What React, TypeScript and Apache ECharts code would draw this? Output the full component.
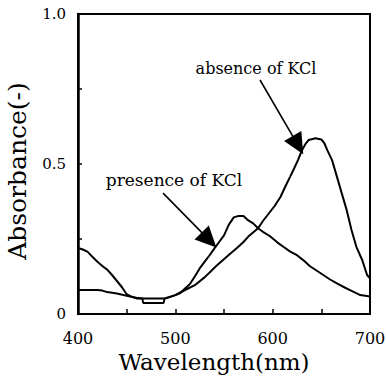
import React, { useEffect, useRef } from "react";
import * as echarts from "echarts";

const presenceWavelength = [400, 405, 410, 415, 420, 425, 430, 435, 440, 445, 450, 455, 460, 465, 470, 480, 490, 495, 500, 505, 510, 515, 520, 525, 530, 535, 540, 545, 550, 555, 560, 565, 570, 575, 580, 585, 590, 597, 605, 611, 618, 625, 632, 638, 645, 652, 659, 666, 673, 680, 690, 700];
const presenceAbs = [0.22, 0.215, 0.207, 0.19, 0.174, 0.16, 0.148, 0.13, 0.11, 0.09, 0.066, 0.057, 0.052, 0.052, 0.052, 0.052, 0.052, 0.057, 0.063, 0.07, 0.085, 0.1, 0.125, 0.152, 0.174, 0.195, 0.218, 0.24, 0.262, 0.298, 0.322, 0.327, 0.327, 0.312, 0.302, 0.286, 0.274, 0.26, 0.238, 0.224, 0.208, 0.196, 0.178, 0.16, 0.145, 0.13, 0.115, 0.102, 0.09, 0.079, 0.063, 0.058];

const absenceWavelength = [400, 410, 420, 425, 430, 440, 450, 460, 466, 467, 488, 489, 500, 510, 520, 530, 536, 542, 549, 556, 563, 570, 575, 585, 590, 596, 602, 608, 613, 618, 622, 626, 630, 634, 637, 644, 650, 653, 656, 661, 666, 671, 676, 681, 686, 692, 697, 700];
const absenceAbs = [0.08, 0.08, 0.08, 0.078, 0.073, 0.068, 0.061, 0.054, 0.052, 0.037, 0.037, 0.052, 0.063, 0.08, 0.096, 0.122, 0.141, 0.16, 0.18, 0.2, 0.219, 0.24, 0.258, 0.286, 0.31, 0.335, 0.36, 0.39, 0.425, 0.458, 0.485, 0.513, 0.545, 0.568, 0.58, 0.586, 0.582, 0.57, 0.547, 0.513, 0.458, 0.402, 0.347, 0.28, 0.224, 0.18, 0.13, 0.119];

const xTickLabels = [400, 500, 600, 700];
const yTickLabels = ["0", "0.5", "1.0"];

// arrow annotations in data coordinates: [start, end]
const absenceArrow = [[587, 0.78], [626, 0.563]];
const presenceArrow = [[487.4, 0.403], [534.6, 0.247]];

const FONT = "DejaVu Serif";

export default function App() {
  const ref = useRef<HTMLDivElement>(null);
  useEffect(() => {
    if (!ref.current) return;
    const chart = echarts.init(ref.current, null, { renderer: "svg" });
    const arrowLine = (pts: number[][]) => ({
      silent: true,
      symbol: ["none", "triangle"],
      symbolSize: [20, 21],
      label: { show: false },
      lineStyle: { color: "#000", width: 1.6, type: "solid" },
      itemStyle: { color: "#000" },
      data: [[{ coord: pts[0] }, { coord: pts[1] }]],
    });
    chart.setOption({
      animation: false,
      textStyle: { fontFamily: FONT, color: "#000" },
      grid: {
        left: 78,
        right: 16,
        top: 14,
        bottom: 62,
        containLabel: false,
        outerBoundsMode: "none",
        show: true,
        borderColor: "#000",
        borderWidth: 2,
      },
      xAxis: {
        type: "value",
        min: 400,
        max: 700,
        interval: 50,
        name: "Wavelength(nm)",
        nameLocation: "middle",
        nameGap: 35,
        nameTextStyle: { fontFamily: FONT, fontSize: 23, color: "#000", padding: [0, 20, 0, 0] },
        axisLine: { lineStyle: { color: "#000", width: 2 } },
        axisTick: { inside: true, length: 5, lineStyle: { color: "#000", width: 1.5 } },
        axisLabel: {
          margin: 16,
          fontFamily: FONT,
          fontSize: 16,
          color: "#000",
          formatter: (v: number) => (xTickLabels.includes(v) ? String(v) : ""),
        },
        splitLine: { show: false },
      },
      yAxis: {
        type: "value",
        min: 0,
        max: 1,
        interval: 0.25,
        name: "Absorbance(-)",
        nameLocation: "middle",
        nameGap: 48,
        nameRotate: 90,
        nameTextStyle: { fontFamily: FONT, fontSize: 25, color: "#000", padding: [0, 14, 0, 0] },
        axisLine: { show: true, lineStyle: { color: "#000", width: 2.5 } },
        axisTick: { inside: true, length: 4, lineStyle: { color: "#000", width: 1.5 } },
        axisLabel: {
          margin: 12,
          fontFamily: FONT,
          fontSize: 15,
          color: "#000",
          formatter: (v: number) => {
            const s = v === 0 ? "0" : v.toFixed(1);
            return yTickLabels.includes(s) ? s : "";
          },
        },
        splitLine: { show: false },
      },
      graphic: [
        {
          type: "text",
          x: 256,
          y: 68,
          style: {
            text: "absence of KCl",
            fontFamily: FONT,
            fontSize: 16,
            fill: "#000",
            align: "center",
            verticalAlign: "middle",
          },
        },
        {
          type: "text",
          x: 174,
          y: 180,
          style: {
            text: "presence of KCl",
            fontFamily: FONT,
            fontSize: 17,
            fill: "#000",
            align: "center",
            verticalAlign: "middle",
          },
        },
      ],
      series: [
        {
          name: "presence of KCl",
          type: "line",
          data: presenceWavelength.map((w, i) => [w, presenceAbs[i]]),
          showSymbol: false,
          lineStyle: { color: "#000", width: 2 },
          markLine: arrowLine(presenceArrow),
        },
        {
          name: "absence of KCl",
          type: "line",
          data: absenceWavelength.map((w, i) => [w, absenceAbs[i]]),
          showSymbol: false,
          lineStyle: { color: "#000", width: 2 },
          markLine: arrowLine(absenceArrow),
        },
      ],
    });
    return () => chart.dispose();
  }, []);
  return (
    <div
      ref={ref}
      style={{ position: "fixed", left: 0, top: 0, width: 386, height: 376, background: "#fff" }}
    />
  );
}
